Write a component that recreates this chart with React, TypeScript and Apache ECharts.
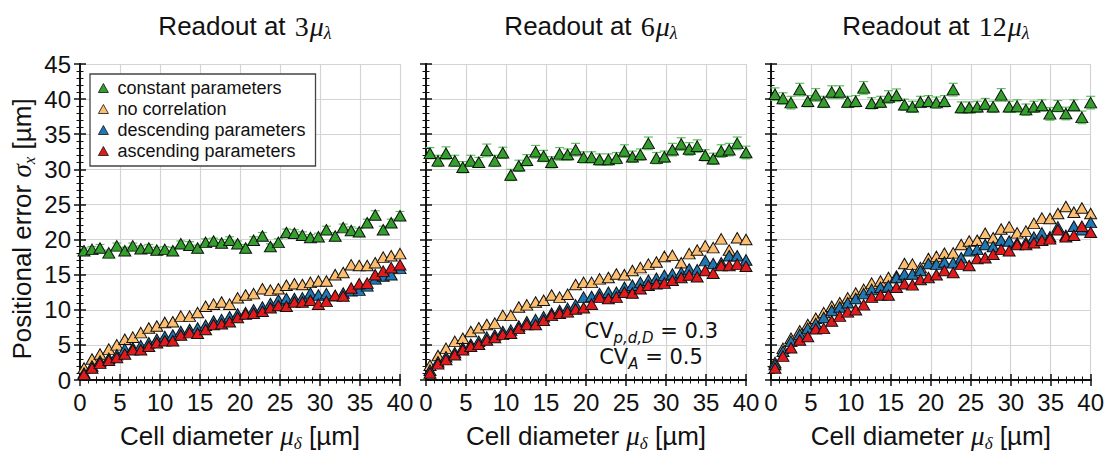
import React, { useEffect, useRef } from "react";
import * as echarts from "echarts";

const X_POS = [0.5, 1.5, 2.5, 3.6, 4.6, 5.6, 6.6, 7.6, 8.6, 9.6, 10.6, 11.6, 12.6, 13.7, 14.7, 15.7, 16.7, 17.7, 18.7, 19.7, 20.7, 21.7, 22.8, 23.8, 24.8, 25.8, 26.8, 27.8, 28.8, 29.8, 30.8, 31.9, 32.9, 33.9, 34.9, 35.9, 36.9, 37.9, 38.9, 40.0];

const PANEL_TITLES = ["3", "6", "12"];
const SERIES_NAMES = ["constant parameters", "no correlation", "descending parameters", "ascending parameters"];
const SERIES_COLORS = ["#33a02c", "#fdbf6f", "#1f78b4", "#e31a1c"];
const X_TICKS = [0, 5, 10, 15, 20, 25, 30, 35, 40];
const Y_TICKS = [0, 5, 10, 15, 20, 25, 30, 35, 40, 45];

// Panel 1: readout at 3 mu_lambda
const P1_CONST = [18.4, 18.6, 18.8, 18.1, 19.1, 18.4, 19.1, 18.7, 18.8, 18.5, 18.6, 18.4, 19.4, 19.2, 18.8, 19.6, 19.8, 19.5, 19.9, 19.4, 18.8, 19.9, 20.5, 19.0, 19.6, 21.0, 20.9, 20.6, 20.3, 20.4, 21.4, 20.5, 21.7, 21.3, 21.1, 22.4, 23.5, 21.4, 22.4, 23.4];
const P1_NOCORR = [1.7, 3.0, 3.7, 4.4, 5.0, 5.8, 6.1, 6.75, 7.4, 7.7, 8.2, 8.3, 9.1, 9.1, 9.6, 10.5, 10.8, 11.1, 10.8, 11.7, 12.1, 12.3, 13.0, 12.8, 13.0, 13.5, 13.7, 13.6, 13.9, 14.1, 14.1, 15.0, 15.3, 16.4, 16.3, 16.3, 16.7, 17.5, 17.7, 18.0];
const P1_DESC = [1.0, 2.0, 2.7, 3.1, 3.6, 4.4, 4.6, 4.9, 5.3, 5.8, 6.2, 6.4, 6.9, 7.2, 7.4, 7.8, 8.4, 8.6, 9.0, 9.4, 9.6, 10.0, 10.4, 10.9, 11.4, 11.6, 11.6, 11.7, 12.4, 12.1, 12.3, 12.0, 12.4, 12.7, 12.8, 13.4, 14.4, 14.8, 15.0, 15.9];
const P1_ASC = [0.8, 1.7, 2.4, 2.8, 3.2, 3.7, 4.3, 4.3, 4.8, 5.3, 5.6, 5.6, 6.4, 6.75, 6.65, 7.2, 7.9, 8.0, 8.3, 8.9, 9.4, 9.5, 9.8, 10.3, 10.6, 10.5, 11.1, 11.1, 11.35, 10.8, 11.2, 12.05, 11.95, 13.1, 13.7, 13.8, 15.0, 15.5, 16.0, 16.4];
const P1_CONST_ERR = [0.4, 0.4, 0.5, 0.4, 0.4, 0.5, 0.4, 0.4, 0.5, 0.4, 0.4, 0.5, 0.4, 0.5, 0.4, 0.5, 0.4, 0.5, 0.5, 0.4, 0.5, 0.5, 0.5, 0.4, 0.5, 0.5, 0.5, 0.5, 0.4, 0.5, 0.5, 0.5, 0.5, 0.5, 0.5, 0.5, 0.6, 0.5, 0.5, 0.6];

// Panel 2: readout at 6 mu_lambda
const P2_CONST = [32.3, 31.2, 32.3, 31.2, 30.3, 31.2, 31.0, 32.7, 31.2, 32.35, 29.2, 30.5, 31.3, 32.5, 31.9, 31.0, 32.2, 32.1, 32.8, 31.7, 31.7, 31.4, 31.4, 31.6, 32.6, 31.8, 32.1, 33.7, 31.6, 31.8, 32.8, 33.6, 32.9, 33.3, 32.0, 31.5, 32.6, 32.8, 33.7, 32.4];
const P2_NOCORR = [2.1, 3.5, 4.5, 5.5, 5.95, 6.9, 7.45, 7.9, 8.1, 9.2, 9.2, 10.4, 10.7, 11.1, 11.35, 12.1, 11.8, 12.2, 13.6, 13.9, 13.9, 14.4, 14.6, 15.1, 15.0, 15.6, 16.0, 16.5, 16.8, 17.6, 17.75, 16.7, 18.0, 18.5, 19.1, 18.85, 20.1, 18.5, 20.25, 20.0];
const P2_DESC = [1.4, 2.6, 3.3, 3.9, 4.6, 5.1, 5.5, 6.1, 6.4, 6.9, 7.1, 7.7, 8.3, 8.6, 9.0, 9.5, 9.9, 10.2, 10.7, 11.8, 11.9, 12.3, 12.5, 12.5, 13.2, 13.5, 13.9, 14.2, 14.5, 14.9, 15.1, 15.3, 15.8, 15.7, 17.0, 16.6, 16.7, 17.7, 17.7, 17.1];
const P2_ASC = [1.0, 2.3, 2.9, 3.6, 4.3, 4.8, 5.1, 5.7, 6.05, 6.5, 6.65, 7.35, 7.9, 7.9, 8.5, 9.2, 9.5, 9.7, 10.1, 10.3, 10.8, 11.8, 11.6, 11.8, 12.5, 12.4, 13.0, 13.5, 13.7, 13.8, 14.2, 14.6, 14.95, 14.7, 15.6, 15.2, 16.3, 16.3, 16.5, 16.2];
const P2_CONST_ERR = [0.8, 0.8, 0.9, 0.8, 0.8, 0.8, 0.7, 0.9, 0.8, 0.8, 0.8, 0.8, 0.8, 0.9, 0.8, 0.8, 0.9, 0.8, 0.9, 0.8, 0.8, 0.8, 0.8, 0.8, 0.9, 0.8, 0.8, 0.9, 0.8, 0.8, 0.9, 0.9, 0.9, 0.9, 0.8, 0.8, 0.9, 0.9, 0.9, 0.9];

// Panel 3: readout at 12 mu_lambda
const P3_CONST = [40.7, 40.1, 39.5, 41.35, 39.7, 40.6, 39.6, 41.0, 41.0, 39.6, 39.7, 41.6, 39.4, 39.6, 40.3, 40.55, 39.2, 38.9, 39.6, 39.7, 39.5, 39.7, 41.35, 38.8, 38.8, 38.9, 39.3, 38.9, 40.6, 38.9, 39.0, 38.5, 38.9, 39.1, 37.9, 39.0, 37.95, 39.1, 37.4, 39.5];
const P3_NOCORR = [2.5, 4.5, 5.95, 7.0, 7.9, 8.8, 9.6, 10.5, 11.0, 11.7, 12.4, 12.9, 13.8, 14.1, 14.6, 14.8, 16.6, 16.5, 16.0, 17.3, 17.6, 18.05, 18.1, 19.3, 19.8, 19.9, 20.9, 20.25, 21.5, 21.8, 20.95, 21.2, 22.3, 23.05, 23.0, 23.7, 24.7, 23.9, 24.5, 23.7];
const P3_DESC = [2.2, 4.1, 5.5, 6.5, 7.35, 8.05, 8.9, 9.9, 10.4, 11.0, 11.6, 12.3, 12.9, 13.2, 13.4, 14.6, 15.1, 15.1, 15.6, 16.6, 16.5, 16.8, 16.7, 17.4, 18.4, 18.6, 19.3, 19.0, 19.9, 19.8, 19.5, 19.6, 20.35, 20.95, 20.4, 21.8, 20.6, 21.9, 21.4, 22.45];
const P3_ASC = [1.7, 3.4, 4.6, 5.7, 6.2, 7.3, 7.35, 8.4, 9.1, 9.7, 10.0, 10.7, 11.8, 12.1, 12.1, 13.2, 13.7, 13.55, 14.3, 14.6, 15.0, 15.6, 15.3, 16.5, 16.3, 17.3, 17.4, 17.9, 18.6, 18.4, 19.3, 19.3, 19.55, 19.9, 20.1, 21.4, 20.4, 20.6, 21.9, 21.05];
const P3_CONST_ERR = [0.9, 0.8, 0.9, 0.9, 0.8, 0.9, 0.8, 0.9, 0.9, 0.8, 0.8, 0.9, 0.8, 0.8, 0.9, 0.9, 0.8, 0.8, 0.8, 0.8, 0.8, 0.8, 0.9, 0.8, 0.8, 0.8, 0.8, 0.8, 0.9, 0.8, 0.9, 0.8, 0.8, 0.8, 0.9, 0.8, 0.9, 0.8, 0.9, 0.9];

const PANELS = [
  { series: [P1_CONST, P1_NOCORR, P1_DESC, P1_ASC], err: P1_CONST_ERR },
  { series: [P2_CONST, P2_NOCORR, P2_DESC, P2_ASC], err: P2_CONST_ERR },
  { series: [P3_CONST, P3_NOCORR, P3_DESC, P3_ASC], err: P3_CONST_ERR },
];

const GRID_LEFT = [80, 426, 771];
const GRID_TOP = 64;
const GRID_W = 320;
const GRID_H = 320;

const SANS = "'Liberation Sans', Arial, sans-serif";
const SERIF = "'Liberation Serif', 'DejaVu Serif', serif";
const MATHSANS = "'DejaVu Sans', sans-serif";

function buildOption() {
  const grid: any[] = [];
  const xAxis: any[] = [];
  const yAxis: any[] = [];
  const series: any[] = [];
  const title: any[] = [];

  const axisLine = { show: true, lineStyle: { color: "#111", width: 1.8 } };
  const nameRich = {
    t: { fontFamily: SANS, fontSize: 26, color: "#111", lineHeight: 32, verticalAlign: "middle" },
    m: { fontFamily: SERIF, fontStyle: "italic", fontSize: 27, color: "#111", lineHeight: 32, verticalAlign: "middle" },
    s: { fontFamily: SERIF, fontStyle: "italic", fontSize: 17, color: "#111", lineHeight: 18, verticalAlign: "bottom" },
  };

  PANELS.forEach((panel, p) => {
    grid.push({ left: GRID_LEFT[p], top: GRID_TOP, width: GRID_W, height: GRID_H, containLabel: false });
    const commonX = {
      type: "value",
      gridIndex: p,
      min: X_TICKS[0],
      max: X_TICKS[X_TICKS.length - 1],
      interval: 5,
      axisLine,
      axisTick: { show: true, inside: true, length: 6, lineStyle: { color: "#111", width: 1.5 } },
      minorTick: { show: true, splitNumber: 5, length: 3.5, lineStyle: { color: "#111", width: 1 } },
    };
    xAxis.push({
      ...commonX,
      position: "bottom",
      splitLine: { show: true, lineStyle: { color: "#d4d4d4", width: 1.2 } },
      axisLabel: {
        show: true,
        margin: 10,
        fontFamily: SANS,
        fontSize: 24,
        color: "#111",
      },
      name: "{t|Cell diameter }{m|μ}{s|δ}{t| [µm]}",
      nameLocation: "middle",
      nameGap: 40,
      nameTextStyle: { rich: nameRich },
    });
    xAxis.push({
      ...commonX,
      position: "top",
      splitLine: { show: false },
      axisLabel: { show: false },
    });
    const commonY = {
      type: "value",
      gridIndex: p,
      min: Y_TICKS[0],
      max: Y_TICKS[Y_TICKS.length - 1],
      interval: 5,
      axisLine,
      axisTick: { show: true, inside: true, length: 6, lineStyle: { color: "#111", width: 1.5 } },
      minorTick: { show: true, splitNumber: 5, length: 3.5, lineStyle: { color: "#111", width: 1 } },
    };
    yAxis.push({
      ...commonY,
      position: "left",
      splitLine: { show: true, lineStyle: { color: "#d4d4d4", width: 1.2 } },
      axisLabel: {
        show: p === 0,
        margin: 9,
        fontFamily: SANS,
        fontSize: 24,
        color: "#111",
      },
      ...(p === 0
        ? {
            name: "{t|Positional error }{m|σ}{s|x}{t| [µm]}",
            nameLocation: "middle",
            nameRotate: 90,
            nameGap: 42,
            nameTextStyle: { rich: nameRich, padding: [0, 14, 0, 0] },
          }
        : {}),
    });
    yAxis.push({
      ...commonY,
      position: "right",
      splitLine: { show: false },
      axisLabel: { show: false },
    });

    title.push({
      text: `{t|Readout at }{n|${PANEL_TITLES[p]}}{m|μ}{s|λ}`,
      left: GRID_LEFT[p] + GRID_W / 2,
      top: 5,
      textAlign: "center",
      textStyle: {
        fontWeight: "normal",
        rich: {
          t: { fontFamily: SANS, fontWeight: "normal", fontSize: 26, color: "#111", lineHeight: 32, verticalAlign: "middle" },
          n: { fontFamily: SERIF, fontWeight: "normal", fontSize: 28, color: "#111", lineHeight: 32, verticalAlign: "middle", padding: [0, 1, 0, 2] },
          m: { fontFamily: SERIF, fontWeight: "normal", fontStyle: "italic", fontSize: 28, color: "#111", lineHeight: 32, verticalAlign: "middle" },
          s: { fontFamily: SERIF, fontWeight: "normal", fontStyle: "italic", fontSize: 18, color: "#111", lineHeight: 18, verticalAlign: "bottom" },
        },
      },
    });

    // error bars for constant parameters
    const errColor = "#5cc05c";
    series.push({
      type: "custom",
      name: "err" + p,
      xAxisIndex: p * 2,
      yAxisIndex: p * 2,
      z: 1,
      silent: true,
      data: X_POS.map((x, i) => [x, panel.series[0][i], panel.err[i]]),
      renderItem: (params: any, api: any) => {
        const x = api.value(0);
        const y = api.value(1);
        const e = api.value(2);
        const hi = api.coord([x, y + e]);
        const lo = api.coord([x, y - e]);
        const w = 4.5;
        const st = { stroke: errColor, lineWidth: 1.2 };
        return {
          type: "group",
          children: [
            { type: "line", shape: { x1: hi[0], y1: hi[1], x2: lo[0], y2: lo[1] }, style: st },
            { type: "line", shape: { x1: hi[0] - w, y1: hi[1], x2: hi[0] + w, y2: hi[1] }, style: st },
            { type: "line", shape: { x1: lo[0] - w, y1: lo[1], x2: lo[0] + w, y2: lo[1] }, style: st },
          ],
        };
      },
    });

    panel.series.forEach((vals, k) => {
      series.push({
        type: "scatter",
        name: SERIES_NAMES[k],
        xAxisIndex: p * 2,
        yAxisIndex: p * 2,
        symbol: "triangle",
        symbolSize: [12, 10.5],
        z: 2 + k,
        itemStyle: { color: SERIES_COLORS[k], borderColor: "#111", borderWidth: 1, opacity: 1 },
        emphasis: { disabled: true },
        data: X_POS.map((x, i) => [x, vals[i]]),
      });
    });
  });

  return {
    animation: false,
    backgroundColor: "#ffffff",
    title,
    grid,
    xAxis,
    yAxis,
    series,
    legend: {
      data: SERIES_NAMES,
      orient: "vertical",
      left: 90,
      top: 74,
      padding: [5, 10, 6, 8],
      itemGap: 3,
      itemWidth: 10,
      itemHeight: 9,
      icon: "triangle",
      backgroundColor: "#ffffff",
      borderColor: "#444",
      borderWidth: 1.3,
      borderRadius: 0,
      textStyle: { fontFamily: SANS, fontSize: 18, color: "#111", padding: [0, 0, 0, 4] },
      itemStyle: { borderColor: "#111", borderWidth: 0.8 },
      selectedMode: false,
    },
    graphic: [
      {
        type: "text",
        x: 718,
        y: 331,
        z: 100,
        style: {
          text: "{c|CV}{s|p,d,D}{c| = 0.3}",
          align: "right",
          verticalAlign: "middle",
          rich: {
            c: { fontFamily: MATHSANS, fontSize: 21, fill: "#111", lineHeight: 28, verticalAlign: "middle" },
            s: { fontFamily: MATHSANS, fontStyle: "italic", fontSize: 15, fill: "#111", lineHeight: 15, verticalAlign: "bottom" },
          },
        },
      },
      {
        type: "text",
        x: 651,
        y: 357,
        z: 100,
        style: {
          text: "{c|CV}{s|A}{c| = 0.5}",
          align: "center",
          verticalAlign: "middle",
          rich: {
            c: { fontFamily: MATHSANS, fontSize: 21, fill: "#111", lineHeight: 28, verticalAlign: "middle" },
            s: { fontFamily: MATHSANS, fontStyle: "italic", fontSize: 15, fill: "#111", lineHeight: 15, verticalAlign: "bottom" },
          },
        },
      },
    ],
  };
}

export default function App() {
  const ref = useRef<HTMLDivElement>(null);
  useEffect(() => {
    document.body.style.margin = "0";
    if (!ref.current) return;
    const chart = echarts.init(ref.current, null, { renderer: "svg" });
    chart.setOption(buildOption() as any);
    return () => {
      chart.dispose();
    };
  }, []);
  return <div ref={ref} style={{ width: 1107, height: 457 }} />;
}
